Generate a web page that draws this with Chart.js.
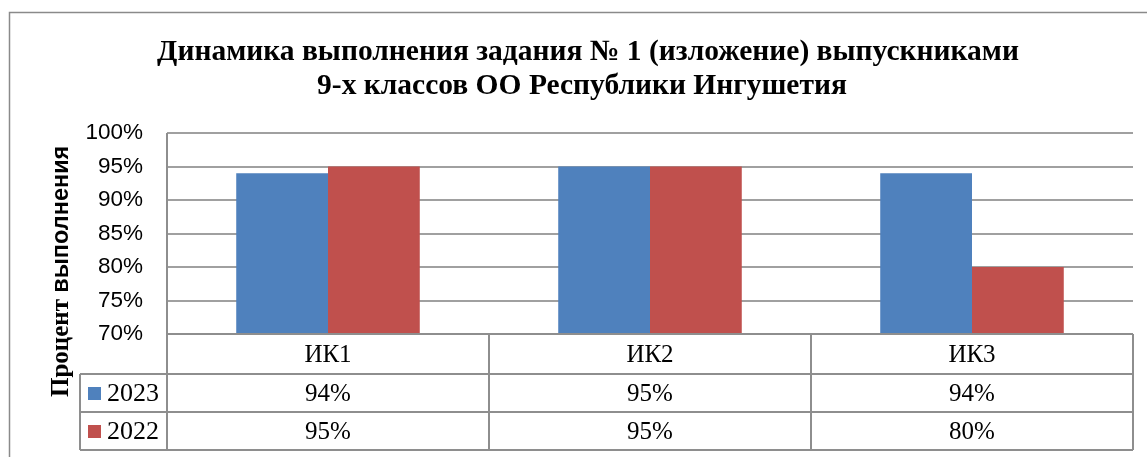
<!DOCTYPE html>
<html>
<head>
<meta charset="utf-8">
<script src="https://cdn.jsdelivr.net/npm/chart.js@4"></script>
<style>
  html, body { margin: 0; padding: 0; background: #fff; }
  #wrap { width: 1147px; height: 457px; }
</style>
</head>
<body>
<div id="wrap"><canvas id="chart" width="1147" height="457"></canvas></div>
<script>
const categories = ['ИК1', 'ИК2', 'ИК3'];
const series2023 = [0.94, 0.95, 0.94];
const series2022 = [0.95, 0.95, 0.80];
const seriesNames = ['2023', '2022'];
const titleLines = ['Динамика выполнения задания № 1 (изложение) выпускниками', '9-х классов ОО Республики Ингушетия'];
const yTitleParts = ['Процент ', 'выполнения'];

const colors = ['#4F81BD', '#C0504D'];
const lineColor = '#8e8e8e';

const fmt = v => Math.round(v * 100) + '%';

// frame, title, axis title and the data table under the plot
const extras = {
    id: 'extras',
    beforeDraw(chart) {
        const ctx = chart.ctx;
        ctx.save();
        ctx.fillStyle = '#fff';
        ctx.fillRect(0, 0, chart.width, chart.height);
        ctx.strokeStyle = '#8a8a8a';
        ctx.lineWidth = 1.5;
        ctx.beginPath();
        ctx.moveTo(9.5, chart.height + 5);
        ctx.lineTo(9.5, 12.5);
        ctx.lineTo(chart.width + 5, 12.5);
        ctx.stroke();
        ctx.restore();
    },
    afterDraw(chart) {
        const { ctx, chartArea, scales: { x } } = chart;
        const rows = [chartArea.bottom, chartArea.bottom + 40, chartArea.bottom + 78, chartArea.bottom + 116];
        const step = (x.right - x.left) / categories.length;
        const legLeft = 80;
        ctx.save();

        // title
        ctx.fillStyle = '#000';
        ctx.textAlign = 'center';
        ctx.textBaseline = 'middle';
        ctx.font = 'bold 29.5px "Liberation Serif"';
        ctx.fillText(titleLines[0], 588, 52);
        ctx.fillText(titleLines[1], 582, 86);

        // y title: serif first word, sans second, as in the original
        ctx.save();
        ctx.translate(62, 397);
        ctx.rotate(-Math.PI / 2);
        ctx.textAlign = 'left';
        ctx.font = 'bold 25px "Liberation Serif"';
        ctx.fillText(yTitleParts[0], 0, 0);
        const w0 = ctx.measureText(yTitleParts[0]).width;
        ctx.font = 'bold 23.5px "Liberation Sans"';
        ctx.fillText(yTitleParts[1], w0, 0);
        ctx.restore();

        // table lines
        ctx.strokeStyle = lineColor;
        ctx.lineWidth = 2;
        ctx.beginPath();
        ctx.moveTo(x.left, rows[0]); ctx.lineTo(x.right, rows[0]);
        for (let r = 1; r < rows.length; r++) {
            ctx.moveTo(legLeft, rows[r]); ctx.lineTo(x.right, rows[r]);
        }
        ctx.moveTo(legLeft, rows[1]); ctx.lineTo(legLeft, rows[3]);
        ctx.moveTo(x.left, chartArea.top); ctx.lineTo(x.left, rows[3]);
        for (let i = 0; i < categories.length; i++) {
            const edge = x.getPixelForValue(i) + step / 2;
            ctx.moveTo(edge, rows[0]); ctx.lineTo(edge, rows[3]);
        }
        ctx.stroke();

        // table text
        ctx.fillStyle = '#000';
        ctx.font = '25px "Liberation Serif"';
        ctx.textAlign = 'center';
        const values = [series2023, series2022];
        categories.forEach((c, i) => {
            const cx = x.getPixelForValue(i);
            ctx.fillText(c, cx, (rows[0] + rows[1]) / 2 + 1);
            values.forEach((s, k) => ctx.fillText(fmt(s[i]), cx, (rows[k + 1] + rows[k + 2]) / 2 + 1));
        });

        // legend keys
        ctx.textAlign = 'left';
        ctx.font = '26px "Liberation Serif"';
        seriesNames.forEach((n, k) => {
            const cy = (rows[k + 1] + rows[k + 2]) / 2;
            ctx.fillStyle = colors[k];
            ctx.fillRect(88, cy - 6, 13, 13);
            ctx.fillStyle = '#000';
            ctx.fillText(n, 107, cy + 1);
        });
        ctx.restore();
    }
};

new Chart(document.getElementById('chart').getContext('2d'), {
    type: 'bar',
    data: {
        labels: categories,
        datasets: [
            { label: seriesNames[0], data: series2023, backgroundColor: colors[0] },
            { label: seriesNames[1], data: series2022, backgroundColor: colors[1] }
        ]
    },
    options: {
        responsive: false,
        animation: false,
        layout: { padding: { left: 0, top: 133, right: 14, bottom: 123 } },
        datasets: { bar: { categoryPercentage: 0.57, barPercentage: 1.0 } },
        plugins: {
            legend: { display: false },
            title: { display: false },
            tooltip: { enabled: false }
        },
        scales: {
            x: { display: false },
            y: {
                min: 0.70,
                max: 1.00,
                afterFit: (scale) => { scale.width = 167; },
                border: { display: false },
                grid: { color: '#a0a0a0', lineWidth: 2, drawTicks: false },
                ticks: {
                    stepSize: 0.05,
                    padding: 24,
                    color: '#000',
                    font: { family: '"Liberation Sans"', size: 22.5 },
                    callback: v => fmt(v)
                }
            }
        }
    },
    plugins: [extras]
});
</script>
</body>
</html>
